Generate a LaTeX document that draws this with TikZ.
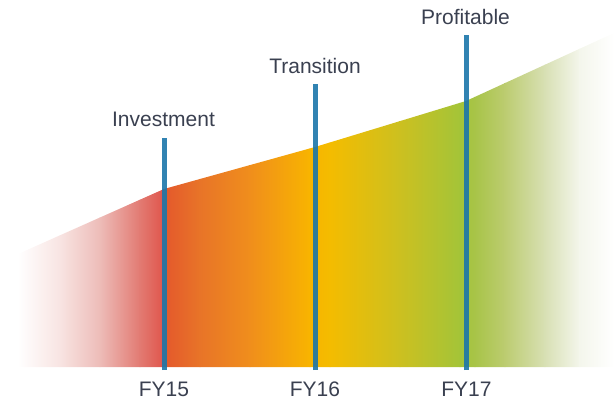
\documentclass[tikz,border=0pt]{standalone}
\usepackage{fontspec}
\setmainfont{Liberation Sans}
\begin{document}
\begin{tikzpicture}[x=1pt,y=-1pt,
  phase/.style={anchor=base,text=labelgray,font=\fontsize{21}{25}\selectfont,inner sep=0pt},
  milestone/.style={draw=barblue,line width=5pt,opacity=0.9}]
\definecolor{labelgray}{HTML}{3A4050}
\definecolor{barblue}{HTML}{1B76AA}
\useasboundingbox (0,0) rectangle (614,401);

% growth band, coloured by a chain of horizontal gradient strips
\begin{scope}
  \clip (18,254) -- (164,189) -- (315,147) -- (466,101) -- (614,33)
        -- (614,367) -- (18,367) -- cycle;
  \def\stops{18/FFFFFF/60/F8E4E2, 60/F8E4E2/100/EDBCB8, 100/EDBCB8/140/E27A72,
    140/E27A72/162/E0584E, 162/E0584E/166/E45A2C, 166/E45A2C/200/E87428,
    200/E87428/250/F08E1C, 250/F08E1C/310/F8B400, 310/F8B400/330/F4BC00,
    330/F4BC00/400/CCC020, 400/CCC020/460/A4C438, 460/A4C438/475/A8C448,
    475/A8C448/505/BCCC70, 505/BCCC70/545/D8E0B4, 545/D8E0B4/580/F4F6EC,
    580/F4F6EC/614/FFFFFF}
  \foreach \xa/\ca/\xb/\cb in \stops {
    \definecolor{ca}{HTML}{\ca}\definecolor{cb}{HTML}{\cb}
    \shade[left color=ca,right color=cb] (\xa-0.3,20) rectangle (\xb+0.3,380);
  }
\end{scope}

% milestone bars
\coordinate (b15) at (164,370); \coordinate (t15) at (164,138);
\coordinate (b16) at (315,370); \coordinate (t16) at (315,84);
\coordinate (b17) at (466.5,370); \coordinate (t17) at (466.5,35);
\draw[milestone] (b15) -- (t15);
\draw[milestone] (b16) -- (t16);
\draw[milestone] (b17) -- (t17);

% phase names above the bars
\node[phase] (invest) at (163.5,127) {Investment};
\node[phase] (trans) at (315,74) {Transition};
\node[phase] (profit) at (465.5,25) {Profitable};

% fiscal years below the bars
\node[phase] (fy15) at (164,396.5) {FY15};
\node[phase] (fy16) at (315,396.5) {FY16};
\node[phase] (fy17) at (466.5,396.5) {FY17};
\end{tikzpicture}
\end{document}
